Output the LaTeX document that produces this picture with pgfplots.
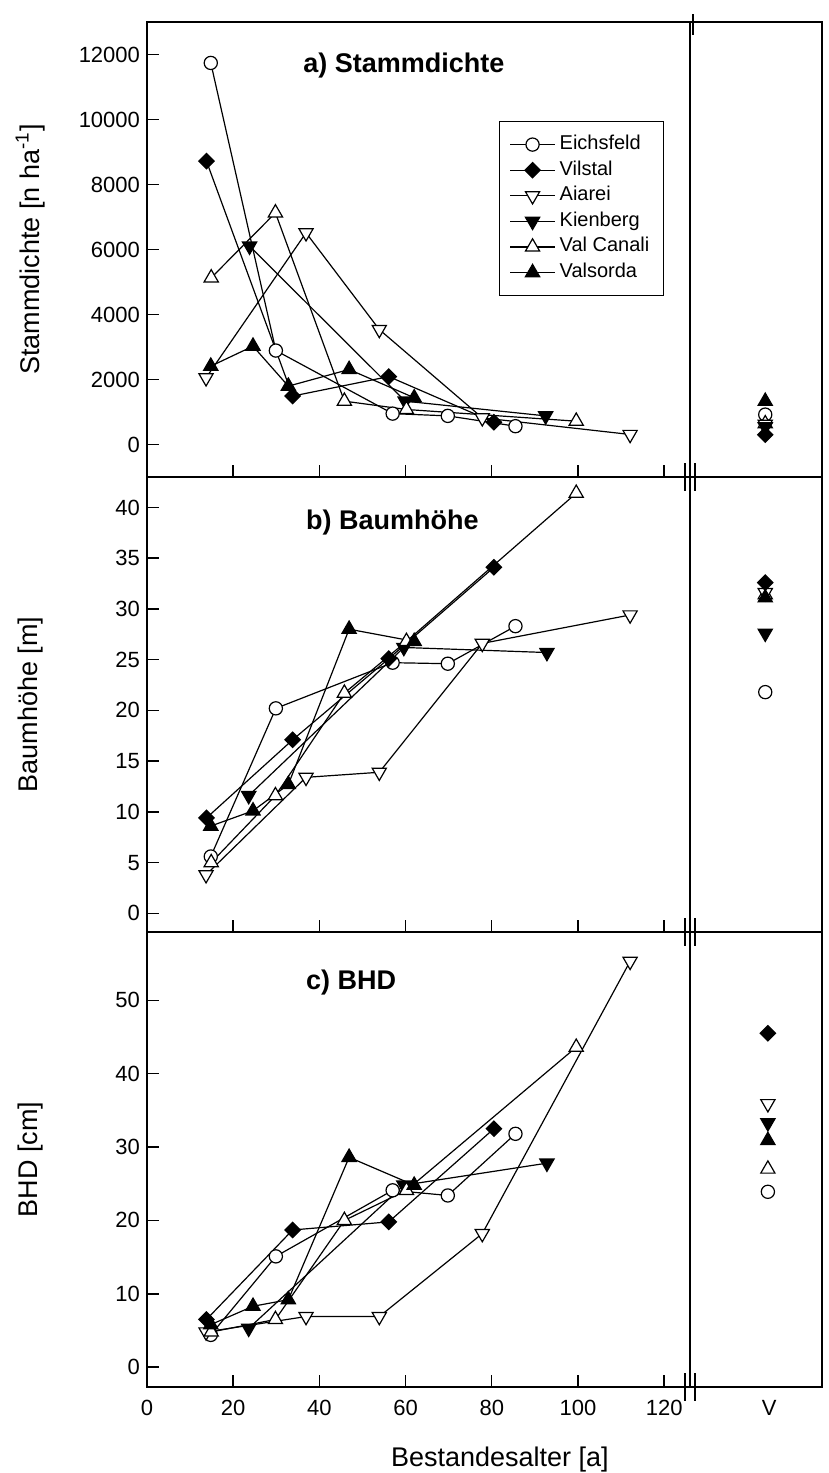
\documentclass[border=0pt]{standalone}
\usepackage{pgfplots}
\pgfplotsset{compat=1.18}
\usepackage{fontspec}
\setmainfont{Liberation Sans}

\tikzset{ttl/.style={anchor=west, font=\bfseries\fontsize{13.5}{16}\selectfont}}
\pgfplotsset{
  base/.style={scale only axis, height=227.5pt, clip=false,
    axis line style={line width=0.75pt},
    every tick/.style={line width=0.7pt, black},
    tick align=inside, major tick length=6pt,
    xtick pos=bottom, ytick pos=left,
    scaled y ticks=false, scaled x ticks=false,
    tick label style={font=\fontsize{11}{13}\selectfont},
    /pgf/number format/assume math mode=true,
    /pgf/number format/1000 sep={},
    xticklabel shift=3pt,
    every axis y label/.style={at={(axis description cs:-0.215,0.5)}, rotate=90, anchor=center, font=\fontsize{13.5}{16}\selectfont},
  },
  main/.style={base, width=271.5pt, xmin=0, xmax=126, xtick={0,20,...,120}, xticklabels={}},
  side/.style={base, width=66pt, xmin=0, xmax=1, ytick=\empty, xtick=\empty},
  pE/.style={black, line width=0.6pt, mark=*, mark size=3.3pt, mark options={fill=white, solid}},
  pV/.style={black, line width=0.6pt, mark=square*, mark size=2.7pt, mark options={fill=black, rotate=45, solid}},
  pA/.style={black, line width=0.6pt, mark=triangle*, mark size=4.1pt, mark options={fill=white, rotate=180, solid}},
  pK/.style={black, line width=0.6pt, mark=triangle*, mark size=4.1pt, mark options={fill=black, rotate=180, solid}},
  pC/.style={black, line width=0.6pt, mark=triangle*, mark size=4.1pt, mark options={fill=white, solid}},
  pS/.style={black, line width=0.6pt, mark=triangle*, mark size=4.1pt, mark options={fill=black, solid}},
}

\begin{document}
\begin{tikzpicture}
\useasboundingbox (0pt,0pt) rectangle (414.5pt,736.5pt);

% ---------------- panel a ----------------
\begin{axis}[main, at={(73.5pt,498pt)}, anchor=south west,
  ymin=-1000, ymax=13000, ytick={0,2000,...,12000},
  ylabel={Stammdichte [n ha\textsuperscript{-1}]},
  legend style={at={(rel axis cs:0.648,0.782)}, anchor=north west, draw=black, line width=0.6pt,
    font=\fontsize{10}{11}\selectfont, inner xsep=5pt, inner ysep=5pt, row sep=0pt,
    nodes={text height=7pt, text depth=2pt, inner ysep=1.9pt}},
  legend cell align=left,
  legend image code/.code={\draw[line width=0.6pt, mark repeat=2, mark phase=2] plot coordinates {(0pt,0pt) (11.25pt,0pt) (22.5pt,0pt)};},
]
\addplot[pE] coordinates {(14.8,11740) (29.9,2890) (57.0,950) (69.8,880) (85.5,563)};
\addlegendentry{Eichsfeld}
\addplot[pV] coordinates {(13.8,8718) (33.8,1490) (56.1,2090) (80.5,686)};
\addlegendentry{Vilstal}
\addplot[pA] coordinates {(13.7,2051) (36.9,6513) (53.9,3538) (77.8,820) (112.1,308)};
\addlegendentry{Aiarei}
\addplot[pK] coordinates {(23.8,6102) (59.9,1333) (92.5,880)};
\addlegendentry{Kienberg}
\addplot[pC] coordinates {(14.9,5128) (29.8,7128) (45.8,1333) (60.2,1077) (99.6,717)};
\addlegendentry{Val Canali}
\addplot[pS] coordinates {(14.8,2410) (24.6,3025) (32.8,1795) (46.9,2308) (62.0,1437)};
\addlegendentry{Valsorda}
\node[ttl] at (rel axis cs:0.275,0.905) {a) Stammdichte};
\end{axis}

\begin{axis}[side, at={(345pt,498pt)}, anchor=south west, ymin=-1000, ymax=13000]
\addplot[pS, only marks] coordinates {(0.57,1330)};
\addplot[pE, only marks] coordinates {(0.57,920)};
\addplot[pC, only marks] coordinates {(0.57,640)};
\addplot[pA, only marks] coordinates {(0.57,620)};
\addplot[pK, only marks] coordinates {(0.57,540)};
\addplot[pV, only marks] coordinates {(0.57,300)};
\end{axis}

% ---------------- panel b ----------------
\begin{axis}[main, at={(73.5pt,270.5pt)}, anchor=south west,
  ymin=-1.84, ymax=43, ytick={0,5,...,40},
  ylabel={Baumhöhe [m]}]
\addplot[pE] coordinates {(14.8,5.6) (29.9,20.2) (57.0,24.7) (69.8,24.6) (85.5,28.3)};
\addplot[pV] coordinates {(13.8,9.4) (33.8,17.1) (56.1,25.1) (80.5,34.1)};
\addplot[pA] coordinates {(13.7,3.8) (36.9,13.4) (53.9,13.9) (77.8,26.6) (112.1,29.4)};
\addplot[pK] coordinates {(23.6,11.6) (59.6,26.2) (92.8,25.7)};
\addplot[pC] coordinates {(14.9,5.0) (29.8,11.6) (45.8,21.7) (60.2,26.8) (99.6,41.4)};
\addplot[pS] coordinates {(14.8,8.6) (24.6,10.1) (32.8,12.7) (46.9,28.0) (62.0,26.8)};
\node[ttl] at (rel axis cs:0.28,0.9) {b) Baumhöhe};
\end{axis}

\begin{axis}[side, at={(345pt,270.5pt)}, anchor=south west, ymin=-1.84, ymax=43]
\addplot[pC, only marks] coordinates {(0.57,31.4)};
\addplot[pA, only marks] coordinates {(0.57,31.6)};
\addplot[pS, only marks] coordinates {(0.57,31.1)};
\addplot[pV, only marks] coordinates {(0.57,32.6)};
\addplot[pK, only marks] coordinates {(0.57,27.6)};
\addplot[pE, only marks] coordinates {(0.57,21.8)};
\end{axis}

% ---------------- panel c ----------------
\begin{axis}[main, at={(73.5pt,43pt)}, anchor=south west,
  ymin=-2.7, ymax=59.3, ytick={0,10,...,50},
  xticklabels={0,20,40,60,80,100,120},
  ylabel={BHD [cm]},
  xlabel={Bestandesalter [a]},
  xlabel style={at={(axis description cs:0.65,0)}, anchor=center, yshift=-36.5pt, font=\fontsize{13.5}{16}\selectfont}]
\addplot[pE] coordinates {(14.8,4.4) (29.9,15.1) (57.0,24.1) (69.8,23.4) (85.5,31.8)};
\addplot[pV] coordinates {(13.8,6.5) (33.8,18.7) (56.1,19.8) (80.5,32.5)};
\addplot[pA] coordinates {(13.7,4.8) (36.9,6.9) (53.9,6.9) (77.8,18.2) (112.1,55.3)};
\addplot[pK] coordinates {(23.6,5.3) (59.6,24.8) (92.8,27.8)};
\addplot[pC] coordinates {(14.9,4.8) (29.8,6.5) (45.8,20.0) (60.2,24.1) (99.6,43.6)};
\addplot[pS] coordinates {(14.8,5.8) (24.6,8.3) (32.8,9.2) (46.9,28.6) (62.0,24.8)};
\node[ttl] at (rel axis cs:0.28,0.89) {c) BHD};
\end{axis}

\begin{axis}[side, at={(345pt,43pt)}, anchor=south west, ymin=-2.7, ymax=59.3,
  xtick={0.6}, xticklabels={V}, major tick length=0pt]
\addplot[pV, only marks] coordinates {(0.59,45.5)};
\addplot[pA, only marks] coordinates {(0.59,35.9)};
\addplot[pK, only marks] coordinates {(0.59,33.3)};
\addplot[pS, only marks] coordinates {(0.59,30.9)};
\addplot[pC, only marks] coordinates {(0.59,27.0)};
\addplot[pE, only marks] coordinates {(0.59,23.9)};
\end{axis}

% axis break marks
\foreach \yy in {43,270.5,498} {
  \draw[line width=0.7pt] (342.5pt,\yy pt-7pt) -- (342.5pt,\yy pt+7pt);
  \draw[line width=0.7pt] (347.5pt,\yy pt-7pt) -- (347.5pt,\yy pt+7pt);
}
\draw[line width=0.7pt] (346.5pt,719pt) -- (346.5pt,729.5pt);
\end{tikzpicture}
\end{document}
